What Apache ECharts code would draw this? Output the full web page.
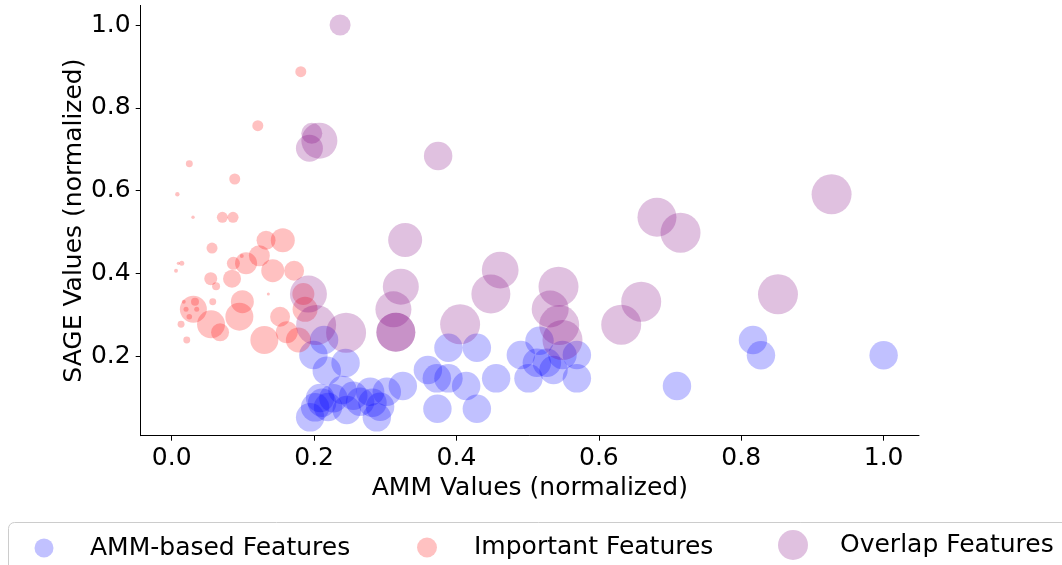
<!DOCTYPE html>
<html>
<head>
<meta charset="utf-8">
<script src="https://cdn.jsdelivr.net/npm/echarts@6/dist/echarts.min.js"></script>
<style>html,body{margin:0;padding:0;background:#fff}#c{width:1062px;height:565px}</style>
</head>
<body>
<div id="c"></div>
<script>
// [AMM value, SAGE value, marker area (pt^2)]
const ammFeatures = [
  [0.199,0.2024,420],[0.2178,0.1645,420],[0.2442,0.1831,420],[0.214,0.2387,420],
  [0.3246,0.1275,420],[0.3598,0.1662,420],[0.3724,0.1461,420],[0.3887,0.1461,420],
  [0.3887,0.2201,420],[0.4286,0.2201,420],[0.4136,0.1275,420],[0.4557,0.1461,420],
  [0.3732,0.0726,420],[0.4286,0.0726,420],[0.4904,0.2024,420],[0.5166,0.237,420],
  [0.5129,0.1838,420],[0.5011,0.1461,420],[0.5363,0.1662,420],[0.5489,0.2024,420],
  [0.5691,0.2024,420],[0.5691,0.1461,420],[0.527,0.1838,420],[0.7097,0.1275,420],
  [0.8165,0.2387,420],[0.8277,0.2017,420],[1.0,0.2017,420],
  [0.1944,0.0518,420],[0.2014,0.076,420],[0.2084,0.0985,420],[0.2271,0.0978,420],
  [0.2397,0.1178,420],[0.2459,0.0695,420],[0.2646,0.0896,420],[0.2787,0.1137,420],
  [0.3021,0.1137,420],[0.2927,0.0775,420],[0.2881,0.0518,420],[0.2196,0.0767,420],
  [0.2112,0.0870,420],[0.2820,0.0870,420],[0.2550,0.1040,420]
];
const importantFeatures = [
  [0.1813,0.8871,63],[0.1209,0.7566,63],[0.0247,0.6648,25],[0.0885,0.6278,63],
  [0.0079,0.5908,10],[0.0711,0.5352,63],[0.0861,0.5352,63],[0.0299,0.5352,6],
  [0.0566,0.461,63],[0.1325,0.4796,187],[0.156,0.4796,299],[0.1231,0.4424,229],
  [0.1044,0.424,251],[0.0866,0.424,88],[0.0984,0.4417,8],[0.1419,0.4062,274],
  [0.1719,0.4062,207],[0.0847,0.3868,168],[0.0548,0.3868,88],[0.0623,0.3685,33],
  [0.0141,0.424,13],[0.0093,0.424,5],[0.006,0.4062,8],[0.1357,0.3498,5],
  [0.0304,0.3129,378],[0.0169,0.3312,8],[0.0327,0.3312,33],[0.0201,0.3129,13],
  [0.0351,0.3129,13],[0.0247,0.295,16],[0.0131,0.2766,25],[0.0211,0.2387,25],
  [0.0576,0.3312,25],[0.0552,0.2766,406],[0.0679,0.2573,168],[0.0992,0.3312,274],
  [0.095,0.295,406],[0.1301,0.2387,406],[0.1522,0.295,207],[0.1616,0.2573,251],
  [0.1779,0.2387,324],[0.1849,0.3498,251],[0.1873,0.3129,324]
];
const overlapFeatures = [
  [0.2365,1.0,229],[0.1967,0.7382,229],[0.1934,0.702,378],[0.2074,0.7204,672],
  [0.3742,0.6834,420],[0.3279,0.4804,600],[0.6816,0.5352,788],[0.7147,0.498,829],
  [0.9269,0.5908,829],[0.6595,0.3312,829],[0.6314,0.2757,829],[0.8516,0.3491,829],
  [0.3218,0.3675,672],[0.3114,0.3129,672],[0.3148,0.2573,788],[0.3148,0.2573,788],
  [0.4051,0.2766,829],[0.4483,0.3498,788],[0.4614,0.4078,700],[0.5433,0.3675,829],
  [0.5316,0.3136,710],[0.5443,0.2749,829],[0.5489,0.2387,829],[0.192,0.3498,710],
  [0.2028,0.2749,829],[0.2449,0.2563,829]
];
const xTicks = [0.0,0.2,0.4,0.6,0.8,1.0];
const yTicks = [0.2,0.4,0.6,0.8,1.0];
const seriesNames = ['AMM-based Features','Important Features','Overlap Features'];
const xTitle = 'AMM Values (normalized)';
const yTitle = 'SAGE Values (normalized)';

const FONT = 'DejaVu Sans';
const colors = ['rgba(0,0,255,0.3)','rgba(255,0,0,0.3)','rgba(128,0,128,0.3)'];
const sizeFn = v => Math.sqrt(v[2]) * 100 / 72;
const legendSizes = [19, 20, 30];
const legendCenters = [44, 427, 793];
const legendTextX = [90, 474, 840];

const chart = echarts.init(document.getElementById('c'), null, {renderer:'canvas'});
const dataSets = [ammFeatures, importantFeatures, overlapFeatures];

const legends = seriesNames.map((n,i)=>({
  data:[{name:n, icon:'circle'}],
  left: legendCenters[i] - legendSizes[i]/2,
  top: 545 - legendSizes[i]/2,
  itemWidth: legendSizes[i], itemHeight: legendSizes[i],
  padding:0,
  textStyle:{fontFamily:FONT, fontSize:25, color:'#000',
    padding:[0,0,0, legendTextX[i] - legendCenters[i] - legendSizes[i]/2 - 5]},
  selectedMode:false
}));

chart.setOption({
  animation:false,
  backgroundColor:'#fff',
  graphic:[
    {type:'rect', left:8, top:522, z:-1,
      shape:{width:1100, height:70, r:6},
      style:{fill:'rgba(255,255,255,0.8)', stroke:'#cccccc', lineWidth:1}},
    {type:'text', x:74, y:220.6, rotation:Math.PI/2,
      style:{text:yTitle, fontFamily:FONT, fontSize:25, fill:'#000',
        align:'center', verticalAlign:'middle'}}
  ],
  legend: legends,
  grid:{left:140.7, right:143, top:5.4, bottom:129.3, containLabel:false},
  xAxis:{type:'value', min:-0.0436, max:1.0497,
    name:xTitle, nameLocation:'middle', nameGap:36,
    nameTextStyle:{fontFamily:FONT, fontSize:25, color:'#000'},
    axisLine:{show:true, onZero:false, lineStyle:{color:'#000', width:1}},
    axisTick:{show:true, length:5, customValues:xTicks, lineStyle:{color:'#000'}},
    axisLabel:{show:true, margin:10, customValues:xTicks, fontFamily:FONT, fontSize:25, color:'#000',
      formatter:v=>v.toFixed(1)},
    splitLine:{show:false}},
  yAxis:{type:'value', min:0.0074, max:1.0474,
    axisLine:{show:true, onZero:false, lineStyle:{color:'#000', width:1}},
    axisTick:{show:true, length:5, customValues:yTicks, lineStyle:{color:'#000'}},
    axisLabel:{show:true, margin:10, customValues:yTicks, fontFamily:FONT, fontSize:25, color:'#000',
      formatter:v=>v.toFixed(1)},
    splitLine:{show:false}},
  series: dataSets.map((d,i)=>({
    type:'scatter', name:seriesNames[i], data:d,
    symbol:'circle', symbolSize:sizeFn,
    itemStyle:{color:colors[i], borderWidth:0},
    emphasis:{disabled:true}
  }))
});
</script>
</body>
</html>
